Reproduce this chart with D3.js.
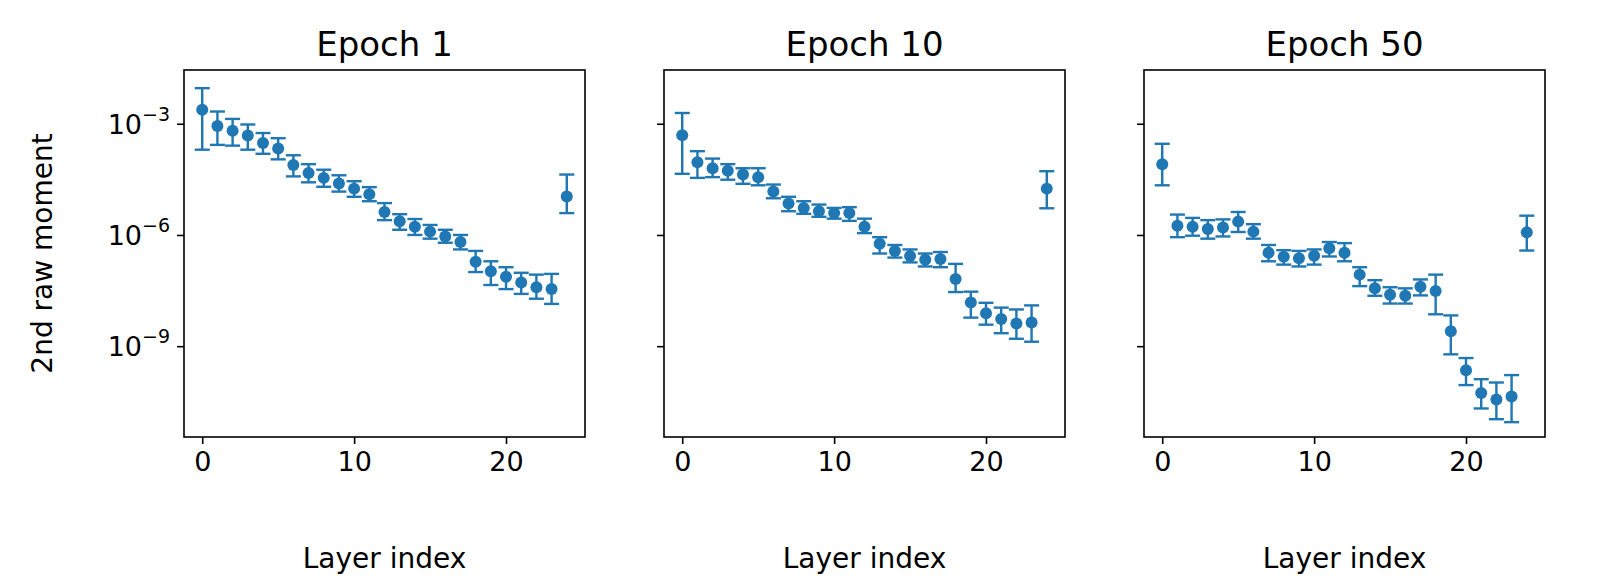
<!DOCTYPE html>
<html>
<head>
<meta charset="utf-8">
<script src="https://cdnjs.cloudflare.com/ajax/libs/d3/7.8.5/d3.min.js"></script>
<style>
  body { margin: 0; background: #fff; }
  text { font-family: "DejaVu Sans", sans-serif; fill: #000; }
</style>
</head>
<body>
<svg id="chart" width="1607" height="586"></svg>
<script>
// log10 of 2nd raw moment per layer: centre, upper and lower error bounds
var layers = d3.range(0, 25);
var titles = ["Epoch 1", "Epoch 10", "Epoch 50"];

var epoch1Mid = [-2.62,-3.06,-3.19,-3.32,-3.52,-3.67,-4.11,-4.33,-4.46,-4.61,-4.75,-4.90,-5.38,-5.63,-5.78,-5.91,-6.04,-6.19,-6.72,-6.98,-7.13,-7.28,-7.41,-7.46,-4.96];
var epoch1Hi  = [-2.04,-2.67,-2.87,-3.02,-3.25,-3.39,-3.85,-4.09,-4.24,-4.39,-4.55,-4.71,-5.14,-5.44,-5.57,-5.73,-5.86,-6.00,-6.43,-6.71,-6.87,-7.02,-7.07,-7.05,-4.37];
var epoch1Lo  = [-3.70,-3.57,-3.59,-3.70,-3.81,-3.96,-4.42,-4.58,-4.70,-4.83,-4.97,-5.09,-5.60,-5.86,-6.00,-6.10,-6.21,-6.39,-7.00,-7.35,-7.46,-7.59,-7.72,-7.86,-5.41];

var epoch10Mid = [-3.31,-4.04,-4.20,-4.27,-4.37,-4.44,-4.83,-5.15,-5.27,-5.36,-5.41,-5.41,-5.78,-6.24,-6.43,-6.57,-6.67,-6.65,-7.19,-7.82,-8.11,-8.27,-8.39,-8.36,-4.75];
var epoch10Hi  = [-2.71,-3.74,-3.94,-4.09,-4.20,-4.20,-4.64,-4.97,-5.09,-5.18,-5.27,-5.25,-5.56,-6.06,-6.27,-6.39,-6.50,-6.46,-6.78,-7.53,-7.83,-7.96,-8.01,-7.90,-4.28];
var epoch10Lo  = [-4.35,-4.46,-4.44,-4.51,-4.62,-4.66,-5.01,-5.36,-5.43,-5.51,-5.56,-5.62,-5.95,-6.50,-6.61,-6.74,-6.85,-6.87,-7.54,-8.23,-8.42,-8.65,-8.80,-8.88,-5.28];

var epoch50Mid = [-4.09,-5.75,-5.78,-5.84,-5.80,-5.64,-5.91,-6.48,-6.59,-6.63,-6.56,-6.36,-6.48,-7.07,-7.44,-7.61,-7.64,-7.40,-7.51,-8.60,-9.65,-10.26,-10.44,-10.36,-5.93];
var epoch50Hi  = [-3.54,-5.45,-5.54,-5.60,-5.58,-5.38,-5.71,-6.27,-6.41,-6.43,-6.39,-6.19,-6.22,-6.87,-7.22,-7.41,-7.44,-7.20,-7.07,-8.17,-9.32,-9.89,-9.98,-9.78,-5.48];
var epoch50Lo  = [-4.66,-6.06,-6.02,-6.10,-6.04,-5.92,-6.10,-6.71,-6.80,-6.85,-6.80,-6.58,-6.71,-7.38,-7.64,-7.85,-7.85,-7.63,-8.14,-9.22,-10.05,-10.68,-10.97,-11.05,-6.42];

var xTicks = [0, 10, 20];
var yTicks = [-3, -6, -9];

var series = [
  { mid: epoch1Mid, hi: epoch1Hi, lo: epoch1Lo },
  { mid: epoch10Mid, hi: epoch10Hi, lo: epoch10Lo },
  { mid: epoch50Mid, hi: epoch50Hi, lo: epoch50Lo }
];

var color = "#1f77b4";
var svg = d3.select("#chart");
var panelLeft = [184, 664, 1144], panelW = 401, plotTop = 70, panelH = 367;

var y = d3.scaleLog().domain([Math.pow(10, -11.45), Math.pow(10, -1.55)]).range([plotTop + panelH, plotTop]);

series.forEach(function(s, p) {
  var x = d3.scaleLinear().domain([-1.2, 25.2]).range([panelLeft[p], panelLeft[p] + panelW]);
  var g = svg.append("g");

  // x axis
  var xa = g.append("g").attr("transform", "translate(0," + (plotTop + panelH) + ")")
    .call(d3.axisBottom(x).tickValues(xTicks).tickSize(7).tickPadding(8).tickFormat(d3.format("d")));
  xa.select(".domain").remove();
  xa.selectAll("line").attr("stroke-width", 1.6);
  xa.selectAll("text").style("font-size", "27px").style("font-family", "DejaVu Sans");

  // y axis
  var ya = g.append("g").attr("transform", "translate(" + panelLeft[p] + ",0)")
    .call(d3.axisLeft(y).tickValues(yTicks.map(function(e) { return Math.pow(10, e); })).tickSize(7).tickFormat(""));
  ya.select(".domain").remove();
  ya.selectAll("line").attr("stroke-width", 1.6);
  if (p == 0) {
    yTicks.forEach(function(e) {
      var t = g.append("text").attr("x", panelLeft[p] - 14).attr("y", y(Math.pow(10, e)) + 10)
        .attr("text-anchor", "end").style("font-size", "27px");
      t.append("tspan").text("10");
      t.append("tspan").attr("dy", -13).style("font-size", "19px").text("\u2212" + Math.abs(e));
    });
    g.append("text").attr("transform", "translate(52," + (plotTop + panelH / 2) + ") rotate(-90)")
      .attr("text-anchor", "middle").style("font-size", "28px").text("2nd raw moment");
  }

  // error bars
  var eb = g.selectAll(".eb").data(layers).enter().append("g")
    .attr("stroke", color).attr("stroke-width", 2.4);
  eb.append("line").attr("x1", function(i) { return x(i); }).attr("x2", function(i) { return x(i); })
    .attr("y1", function(i) { return y(Math.pow(10, s.hi[i])); })
    .attr("y2", function(i) { return y(Math.pow(10, s.lo[i])); });
  eb.append("line").attr("x1", function(i) { return x(i) - 7.5; }).attr("x2", function(i) { return x(i) + 7.5; })
    .attr("y1", function(i) { return y(Math.pow(10, s.hi[i])); })
    .attr("y2", function(i) { return y(Math.pow(10, s.hi[i])); });
  eb.append("line").attr("x1", function(i) { return x(i) - 7.5; }).attr("x2", function(i) { return x(i) + 7.5; })
    .attr("y1", function(i) { return y(Math.pow(10, s.lo[i])); })
    .attr("y2", function(i) { return y(Math.pow(10, s.lo[i])); });

  g.selectAll(".pt").data(layers).enter().append("circle")
    .attr("cx", function(i) { return x(i); })
    .attr("cy", function(i) { return y(Math.pow(10, s.mid[i])); })
    .attr("r", 6).attr("fill", color);

  // frame
  g.append("rect").attr("x", panelLeft[p]).attr("y", plotTop).attr("width", panelW).attr("height", panelH)
    .attr("fill", "none").attr("stroke", "#000").attr("stroke-width", 1.6);

  g.append("text").attr("x", panelLeft[p] + panelW / 2).attr("y", 56).attr("text-anchor", "middle")
    .style("font-size", "34px").text(titles[p]);
  g.append("text").attr("x", panelLeft[p] + panelW / 2).attr("y", 568).attr("text-anchor", "middle")
    .style("font-size", "28px").text("Layer index");
});
</script>
</body>
</html>
